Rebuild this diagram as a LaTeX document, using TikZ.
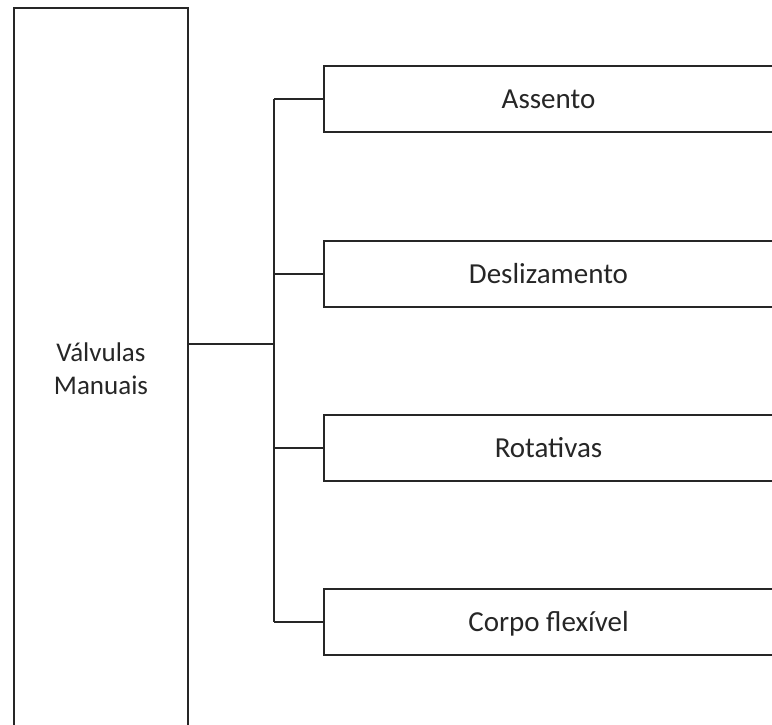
\documentclass[tikz,border=0pt]{standalone}
\usepackage{fontspec}
\setmainfont{Carlito}
\begin{document}
\begin{tikzpicture}[x=1pt,y=-1pt,
  edge/.style={draw=black!85,line width=1.4pt},
  leftbox/.style={draw=black!85,line width=1.4pt,minimum width=174pt,minimum height=722pt,inner sep=0pt,align=center,font=\fontsize{27}{33}\selectfont},
  itembox/.style={draw=black!85,line width=1.4pt,minimum width=449pt,minimum height=66pt,inner sep=0pt,text height=18.5pt,text depth=0pt,font=\fontsize{29}{33}\selectfont,text=black!85}]
\useasboundingbox (0,0) rectangle (772,725);
\node[leftbox,text=black!85] (L) at (101,369) {Válvulas\\Manuais};
\node[itembox] (b1) at (548.5,99) {Assento};
\node[itembox] (b2) at (548.5,274) {Deslizamento};
\node[itembox] (b3) at (548.5,448) {Rotativas};
\node[itembox] (b4) at (548.5,622) {Corpo flexível};
\coordinate (j) at (274,344);
\draw[edge] (L.east |- j) -- (j);
\draw[edge] (j |- b1.west) -- (j |- b4.west);
\foreach \b in {b1,b2,b3,b4} \draw[edge] (j |- \b.west) -- (\b.west);
\end{tikzpicture}
\end{document}
